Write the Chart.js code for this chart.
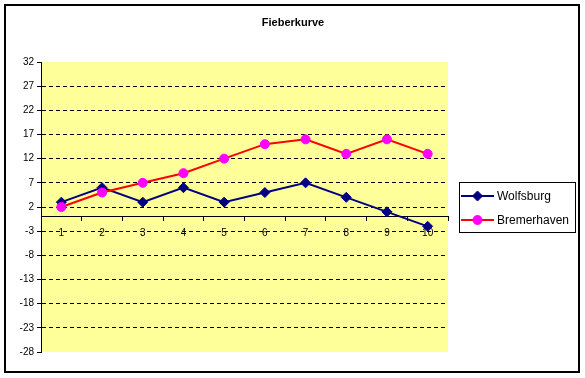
<!DOCTYPE html>
<html>
<head>
<meta charset="utf-8">
<script src="https://cdn.jsdelivr.net/npm/chart.js@4"></script>
<style>
  html, body { margin: 0; padding: 0; background: #fff; }
  #wrap { width: 585px; height: 378px; position: relative; }
</style>
</head>
<body>
<div id="wrap"><canvas id="fieber"></canvas></div>
<script>
// data
const days = ['1', '2', '3', '4', '5', '6', '7', '8', '9', '10'];
const wolfsburg = [3, 6, 3, 6, 3, 5, 7, 4, 1, -2];
const bremerhaven = [2, 5, 7, 9, 12, 15, 16, 13, 16, 13];
const yTicks = [-28, -23, -18, -13, -8, -3, 2, 7, 12, 17, 22, 27, 32];
const chartTitle = 'Fieberkurve';

const FONT = '"Liberation Sans", Arial, sans-serif';

// yellow plot area, outer frame and title (centred on the whole chart, not the plot)
const frame = {
  id: 'frame',
  beforeDraw(chart) {
    const {ctx, chartArea: a} = chart;
    ctx.save();
    ctx.fillStyle = '#fff';
    ctx.fillRect(0, 0, chart.width, chart.height);
    ctx.fillStyle = '#FFFF99';
    ctx.fillRect(a.left, a.top, a.right - a.left, a.bottom - a.top);
    ctx.strokeStyle = '#000';
    ctx.lineWidth = 2;
    ctx.strokeRect(5, 5, 574, 367);
    ctx.fillStyle = '#000';
    ctx.font = 'bold 11px ' + FONT;
    ctx.textAlign = 'center';
    ctx.textBaseline = 'middle';
    ctx.fillText(chartTitle, 293, 23);
    ctx.restore();
  }
};

// excel style legend: line with marker, boxed
const sideLegend = {
  id: 'sideLegend',
  afterDraw(chart) {
    const {ctx} = chart;
    ctx.save();
    ctx.strokeStyle = '#000';
    ctx.lineWidth = 1;
    ctx.strokeRect(459.5, 182.5, 116, 50);
    ctx.font = '12px ' + FONT;
    ctx.textBaseline = 'middle';
    chart.data.datasets.forEach((ds, i) => {
      const y = 196 + i * 24;
      ctx.strokeStyle = ds.borderColor;
      ctx.lineWidth = ds.borderWidth;
      ctx.beginPath();
      ctx.moveTo(461, y);
      ctx.lineTo(494, y);
      ctx.stroke();
      ctx.fillStyle = ds.pointBackgroundColor;
      ctx.strokeStyle = ds.pointBorderColor;
      ctx.lineWidth = 1;
      Chart.helpers.drawPoint(ctx, {pointStyle: ds.pointStyle, radius: ds.pointRadius, rotation: 0, borderWidth: 1}, 477.5, y);
      ctx.fillStyle = '#000';
      ctx.fillText(ds.label, 497, y + 1);
    });
    ctx.restore();
  }
};

new Chart(document.getElementById('fieber'), {
  type: 'line',
  data: {
    labels: days,
    datasets: [
      {
        label: 'Wolfsburg',
        data: wolfsburg,
        borderColor: '#000080',
        borderWidth: 2,
        pointStyle: 'rectRot',
        pointRadius: 5,
        pointBackgroundColor: '#000080',
        pointBorderColor: '#000080',
        pointBorderWidth: 1,
        tension: 0,
        order: 1
      },
      {
        label: 'Bremerhaven',
        data: bremerhaven,
        borderColor: '#FF0000',
        borderWidth: 2,
        pointStyle: 'circle',
        pointRadius: 4.5,
        pointBackgroundColor: '#FF00FF',
        pointBorderColor: '#FF00FF',
        pointBorderWidth: 1,
        tension: 0,
        order: 0
      }
    ]
  },
  options: {
    responsive: true,
    maintainAspectRatio: false,
    animation: false,
    layout: { padding: { top: 62, left: 0, right: 137, bottom: 26 } },
    plugins: {
      legend: { display: false },
      tooltip: { enabled: false },
      title: { display: false }
    },
    scales: {
      x: {
        type: 'category',
        position: { y: 0 },
        offset: true,
        grid: { display: true, drawOnChartArea: false, drawTicks: true, tickLength: 4, offset: true, tickColor: '#000' },
        border: { display: true, color: '#000', width: 1 },
        ticks: { color: '#000', font: { family: FONT, size: 10 }, padding: 7, maxRotation: 0 }
      },
      y: {
        min: -28,
        max: 32,
        afterBuildTicks: s => { s.ticks = yTicks.map(v => ({ value: v })); },
        afterFit: s => { s.width = 41; },
        grid: {
          color: c => (c.tick && (c.tick.value === 32 || c.tick.value === -28)) ? 'rgba(0,0,0,0)' : '#000',
          tickColor: '#000',
          tickLength: 4,
          lineWidth: 1
        },
        border: { display: true, color: '#000', width: 1, dash: [4, 3] },
        ticks: { color: '#000', font: { family: FONT, size: 10 }, padding: 3 }
      }
    }
  },
  plugins: [frame, sideLegend]
});
</script>
</body>
</html>
